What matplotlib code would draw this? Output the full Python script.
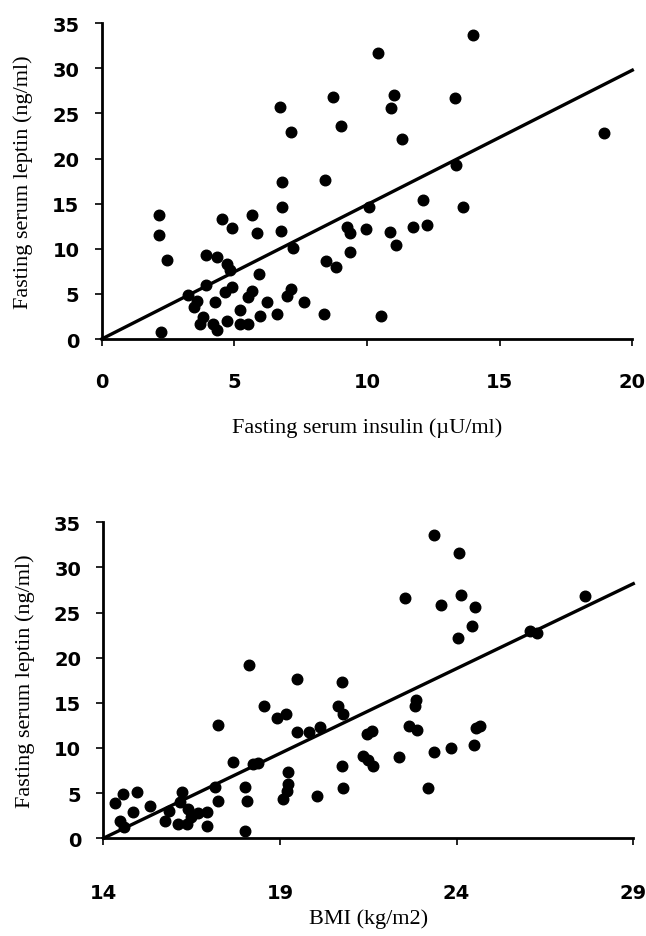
import matplotlib
matplotlib.use("Agg")
import matplotlib.pyplot as plt
import numpy as np

# ---- Data: top panel (insulin vs leptin) ----
insulin = [2.16, 2.16, 2.45, 2.25, 4.54, 4.93, 5.67, 5.87, 6.72, 7.13, 6.80, 6.80, 6.75, 7.22,
           3.93, 4.33, 4.71, 4.83, 5.94, 3.24, 3.60, 3.48, 4.27, 4.90, 4.64, 5.65, 5.52, 6.24,
           7.15, 6.99, 5.21, 3.83, 3.70, 4.20, 4.36, 4.71, 5.21, 5.52, 5.96, 6.59, 3.94,
           14.0, 10.41, 8.72, 11.02, 10.9, 13.33, 9.01, 11.31, 8.41, 13.37, 13.61, 12.11, 10.06,
           9.23, 9.35, 9.97, 10.85, 11.11, 11.72, 12.26, 8.44, 8.84, 9.37, 7.62, 8.38, 10.52, 18.92]
leptin_top = [13.7, 11.5, 8.8, 0.74, 13.3, 12.3, 13.8, 11.8, 25.7, 22.96, 17.4, 14.6, 12.0, 10.1,
              9.26, 9.07, 8.33, 7.6, 7.2, 4.9, 4.19, 3.5, 4.07, 5.74, 5.19, 5.37, 4.63, 4.07,
              5.56, 4.74, 3.26, 2.41, 1.67, 1.67, 1.04, 2.04, 1.67, 1.67, 2.5, 2.78, 6.0,
              33.7, 31.7, 26.8, 27.0, 25.6, 26.7, 23.6, 22.2, 17.6, 19.26, 14.6, 15.4, 14.6,
              12.4, 11.8, 12.2, 11.85, 10.4, 12.4, 12.6, 8.6, 8.04, 9.6, 4.15, 2.78, 2.6, 22.8]
fit_top_x = [0, 20]
fit_top_slope = 1.49
fit_top_intercept = 0.0

# ---- Data: bottom panel (BMI vs leptin) ----
bmi = [18.12, 18.55, 18.93, 19.18, 17.25, 17.66, 18.25, 18.39, 19.24, 19.24, 19.19, 19.10,
       17.16, 17.24, 18.01, 18.08, 18.02,
       14.57, 14.33, 14.96, 14.85, 14.47, 14.59, 15.32, 15.75, 16.22, 16.17, 16.41, 16.47,
       16.12, 16.36, 16.93, 16.93, 15.87, 16.69,
       23.36, 24.08, 22.55, 23.57, 24.12, 24.52, 24.43, 24.03, 19.47, 20.75, 20.63, 20.78,
       19.47, 19.83, 20.13, 21.45, 21.60, 22.85, 22.82, 22.66, 22.87, 21.34, 21.50, 21.62,
       20.75, 22.37, 23.37, 23.84, 24.50, 24.55, 24.67, 20.79, 20.04, 23.18, 27.64, 26.08, 26.27]
leptin_bot = [19.2, 14.6, 13.3, 13.8, 12.6, 8.5, 8.2, 8.35, 7.3, 6.0, 5.27, 4.3,
              5.65, 4.17, 5.7, 4.17, 0.8,
              4.9, 3.9, 5.1, 2.9, 1.95, 1.2, 3.6, 1.95, 5.1, 3.99, 3.25, 2.33,
              1.58, 1.58, 2.88, 1.4, 3.06, 2.8,
              33.6, 31.6, 26.6, 25.8, 27.0, 25.6, 23.5, 22.2, 17.6, 17.3, 14.6, 13.8,
              11.8, 11.74, 12.3, 11.6, 11.85, 15.35, 14.6, 12.4, 12.0, 9.15, 8.7, 7.97,
              7.97, 8.97, 9.6, 9.97, 10.37, 12.2, 12.4, 5.57, 4.7, 5.57, 26.8, 23.0, 22.7]
fit_bot_x = [14, 29]
fit_bot_slope = 1.88
fit_bot_intercept = -26.32

y_ticks = [0, 5, 10, 15, 20, 25, 30, 35]
x_ticks_top = [0, 5, 10, 15, 20]
x_ticks_bot = [14, 19, 24, 29]

fig = plt.figure(figsize=(6.46, 9.37), dpi=100)
ax1 = fig.add_axes([0.1574, 0.6371, 0.9788 - 0.1574, 0.9741 - 0.6371])
ax2 = fig.add_axes([0.1599, 0.1043, 0.9803 - 0.1599, 0.4415 - 0.1043])

serif = "Liberation Serif"

def style(ax, xticks, xlabel, xlabelpad, xtickpad):
    for s in ["top", "right"]:
        ax.spines[s].set_visible(False)
    for s in ["left", "bottom"]:
        ax.spines[s].set_linewidth(2)
        ax.spines[s].set_color("black")
    ax.set_yticks(y_ticks)
    ax.set_xticks(xticks)
    ax.set_ylim(0, 35)
    ax.set_xlim(xticks[0], xticks[-1])
    ax.tick_params(axis="both", direction="out", length=5, width=1.2, colors="black")
    ax.tick_params(axis="y", pad=11)
    ax.tick_params(axis="x", pad=xtickpad)
    for lab in ax.get_xticklabels() + ax.get_yticklabels():
        lab.set_fontfamily("DejaVu Sans")
        lab.set_fontweight("bold")
        lab.set_fontsize(14)
    ax.set_ylabel("Fasting serum leptin (ng/ml)", fontfamily=serif, fontsize=16, labelpad=13.5)
    ax.set_xlabel(xlabel, fontfamily=serif, fontsize=16, labelpad=xlabelpad)

ax1.plot(insulin, leptin_top, "o", color="black", markersize=7.6, clip_on=False)
xt = np.array(fit_top_x, dtype=float)
ax1.plot(xt, fit_top_slope * xt + fit_top_intercept, color="black", lw=2.4, clip_on=False)
style(ax1, x_ticks_top, "Fasting serum insulin (\u00b5U/ml)", 19, 19)

ax2.plot(bmi, leptin_bot, "o", color="black", markersize=7.6, clip_on=False)
xb = np.array(fit_bot_x, dtype=float)
ax2.plot(xb, fit_bot_slope * xb + fit_bot_intercept, color="black", lw=2.4, clip_on=False)
style(ax2, x_ticks_bot, "BMI (kg/m2)", 5, 27)

fig.savefig("out.png", dpi=100, facecolor="white")
